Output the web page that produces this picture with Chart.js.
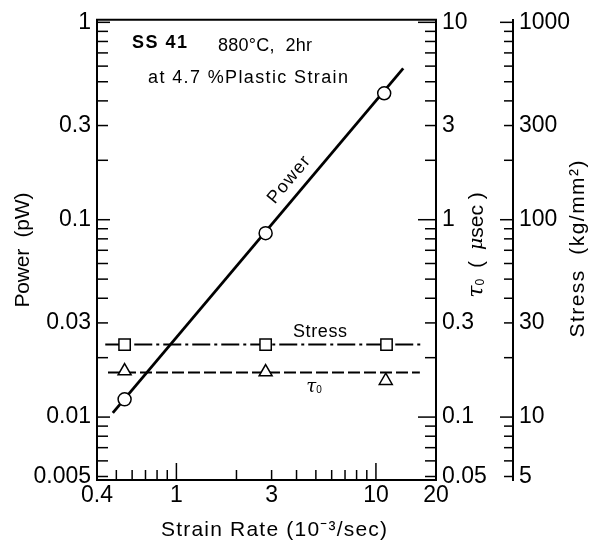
<!DOCTYPE html>
<html>
<head>
<meta charset="utf-8">
<title>SS 41 - power, stress and tau vs strain rate</title>
<script src="https://cdn.jsdelivr.net/npm/chart.js@4.4.0/dist/chart.umd.min.js"></script>
<style>
  html, body { margin: 0; padding: 0; background: #fff; }
  canvas { display: block; }
</style>
</head>
<body>
<canvas id="chart" width="592" height="542"></canvas>
<script>
// measured points (strain rate in 10^-3 /sec)
const powerRate = [0.55, 2.8, 11.0];
const powerValues = [0.0123, 0.0855, 0.437];      // pW
const stressRate = [0.55, 2.8, 11.3];
const stressValues = [23.3, 23.3, 23.3];          // kg/mm2
const tauRate = [0.55, 2.8, 11.2];
const tauValues = [0.171, 0.169, 0.153];          // usec

// the drawn lines, end points
const powerFitRate = [0.48, 13.7];
const powerFitValues = [0.0105, 0.584];
const stressFitRate = [0.44, 17.2];
const stressFitValues = [23.3, 23.3];
const tauFitRate = [0.454, 16.6];
const tauFitValues = [0.168, 0.168];

// tick labels
const rateTicks = [0.4, 1, 3, 10, 20];
const powerTicks = [0.005, 0.01, 0.03, 0.1, 0.3, 1];
const tauTicks = [0.05, 0.1, 0.3, 1, 3, 10];
const stressTicks = [5, 10, 30, 100, 300, 1000];

const FONT = '"Liberation Sans", Arial, sans-serif';
Chart.defaults.font.family = FONT;
Chart.defaults.color = '#000';

const pts = (xs, ys) => xs.map((x, i) => ({ x, y: ys[i] }));

function logAxis(position, min, max, labels, size, weight) {
  return {
    type: 'logarithmic',
    position, min, max, weight,
    grid: { display: false, drawTicks: false },
    border: { display: true, color: '#000', width: 2 },
    ticks: {
      color: '#000',
      font: { size: 23 },
      padding: position === 'bottom' ? 2 : 6,
      autoSkip: false,
      maxRotation: 0,
      callback: (v) => String(v)
    },
    afterBuildTicks: (s) => { s.ticks = labels.map((value) => ({ value })); },
    afterFit: (s) => {
      if (position === 'bottom') s.height = size;
      else s.width = size;
    }
  };
}

// log minor ticks (1..9 per decade) inside the range of a scale
function logSteps(scale) {
  const out = [];
  for (let d = -4; d <= 4; d++) {
    for (let m = 1; m <= 9; m++) {
      const v = m * Math.pow(10, d);
      if (v >= scale.min * 0.999 && v <= scale.max * 1.001) out.push({ v, major: m === 1 });
    }
  }
  return out;
}

function seg(ctx, x1, y1, x2, y2) {
  ctx.beginPath();
  ctx.moveTo(x1, y1);
  ctx.lineTo(x2, y2);
  ctx.stroke();
}

// text stretched to a given width, centred on (x, y)
function spaced(ctx, text, x, y, width, font, angle, baseline) {
  ctx.save();
  ctx.font = font;
  ctx.letterSpacing = '0px';
  const w = ctx.measureText(text).width;
  const n = [...text].length;
  ctx.letterSpacing = ((width - w) / Math.max(n - 1, 1)) + 'px';
  ctx.translate(x, y);
  ctx.rotate(angle || 0);
  ctx.textAlign = 'left';
  ctx.textBaseline = baseline || 'alphabetic';
  ctx.fillStyle = '#000';
  ctx.fillText(text, -width / 2, 0);
  ctx.restore();
}

// several runs of text in a row (used for tau with subscript)
function runs(ctx, parts, x, y, angle, baseline) {
  ctx.save();
  ctx.translate(x, y);
  ctx.rotate(angle || 0);
  ctx.textBaseline = baseline || 'alphabetic';
  ctx.textAlign = 'left';
  ctx.fillStyle = '#000';
  let total = 0;
  parts.forEach((p) => { ctx.font = p.font; p.w = ctx.measureText(p.t).width; total += p.w; });
  let cx = -total / 2;
  parts.forEach((p) => {
    ctx.font = p.font;
    ctx.fillText(p.t, cx, p.dy || 0);
    cx += p.w;
  });
  ctx.restore();
}

const frameTicks = {
  id: 'frameTicks',
  beforeDatasetsDraw(chart) {
    const { ctx, chartArea: a, scales } = chart;
    ctx.save();
    ctx.strokeStyle = '#000';
    ctx.lineWidth = 2;
    seg(ctx, a.left - 1, a.top, a.right + 1, a.top);
    ctx.lineWidth = 1.5;
    logSteps(scales.x).forEach((t) => {
      const p = scales.x.getPixelForValue(t.v);
      seg(ctx, p, a.bottom, p, a.bottom - (t.major ? 17 : 10));
    });
    logSteps(scales.y).forEach((t) => {
      const p = scales.y.getPixelForValue(t.v);
      seg(ctx, a.left, p, a.left + (t.major ? 13 : 11), p);
    });
    logSteps(scales.yTau).forEach((t) => {
      const p = scales.yTau.getPixelForValue(t.v);
      seg(ctx, a.right, p, a.right - (t.major ? 18 : 11), p);
    });
    const sx = scales.yStress.left;
    logSteps(scales.yStress).forEach((t) => {
      const p = scales.yStress.getPixelForValue(t.v);
      seg(ctx, sx, p, sx - (t.major ? 13 : 9), p);
    });
    ctx.restore();
  },
  afterDraw(chart) {
    const { ctx } = chart;
    const sans = (s) => s + 'px ' + FONT;
    // axis titles
    spaced(ctx, 'Strain Rate (10\u207B\u00B3/sec)', 274, 536, 226, sans(21));
    spaced(ctx, 'Power  (pW)', 23, 250, 115, sans(21), -Math.PI / 2, 'middle');
    spaced(ctx, 'Stress  (kg/mm\u00B2)', 578, 249, 177, sans(21), -Math.PI / 2, 'middle');
    runs(ctx, [
      { t: '\u03C4', font: 'italic 22px "DejaVu Serif", serif' },
      { t: '0', font: sans(12), dy: 4 },
      { t: '  (  ', font: sans(20) },
      { t: '\u03BC', font: 'italic 19px "DejaVu Serif", serif' },
      { t: 'sec )', font: sans(21) }
    ], 477, 245, -Math.PI / 2, 'middle');
    // notes inside the frame
    spaced(ctx, 'SS 41', 159.5, 48, 55, 'bold ' + sans(18));
    spaced(ctx, '880\u00B0C,  2hr', 265, 51, 94, sans(18));
    spaced(ctx, 'at 4.7 %Plastic Strain', 248, 83, 200, sans(18));
    spaced(ctx, 'Power', 289, 180, 56, sans(18), -50 * Math.PI / 180, 'middle');
    spaced(ctx, 'Stress', 320, 337, 54, sans(18));
    runs(ctx, [
      { t: '\u03C4', font: 'italic 18px "DejaVu Serif", serif' },
      { t: '0', font: sans(10), dy: 1 }
    ], 314, 392);
  }
};

const marker = { backgroundColor: '#fff', borderColor: '#000', borderWidth: 1.5, showLine: false, order: 1 };
const fitLine = { borderColor: '#000', pointRadius: 0, showLine: true, fill: false, order: 2 };

new Chart(document.getElementById('chart'), {
  type: 'scatter',
  data: {
    datasets: [
      { ...marker, label: 'Power', data: pts(powerRate, powerValues), yAxisID: 'y',
        pointStyle: 'circle', pointRadius: 6.5 },
      { ...marker, label: 'Stress', data: pts(stressRate, stressValues), yAxisID: 'yStress',
        pointStyle: 'rect', pointRadius: 8 },
      { ...marker, label: 'tau0', data: pts(tauRate, tauValues), yAxisID: 'yTau',
        pointStyle: 'triangle', pointRadius: 7.5 },
      { ...fitLine, label: 'Power line', data: pts(powerFitRate, powerFitValues), yAxisID: 'y',
        borderWidth: 2.8 },
      { ...fitLine, label: 'Stress line', data: pts(stressFitRate, stressFitValues), yAxisID: 'yStress',
        borderWidth: 2, borderDash: [18, 4, 3, 4] },
      { ...fitLine, label: 'tau0 line', data: pts(tauFitRate, tauFitValues), yAxisID: 'yTau',
        borderWidth: 2, borderDash: [12, 4] }
    ]
  },
  options: {
    responsive: false,
    animation: false,
    events: [],
    layout: { padding: { top: 16, left: 0, right: 0, bottom: 0 } },
    plugins: { legend: { display: false }, tooltip: { enabled: false } },
    scales: {
      x: logAxis('bottom', 0.4, 20, rateTicks, 62, 0),
      y: logAxis('left', 0.0048, 1.03, powerTicks, 97, 0),
      yTau: logAxis('right', 0.048, 10.3, tauTicks, 77, 1),
      yStress: logAxis('right', 4.8, 1030, stressTicks, 79, 2)
    }
  },
  plugins: [frameTicks]
});
</script>
</body>
</html>
